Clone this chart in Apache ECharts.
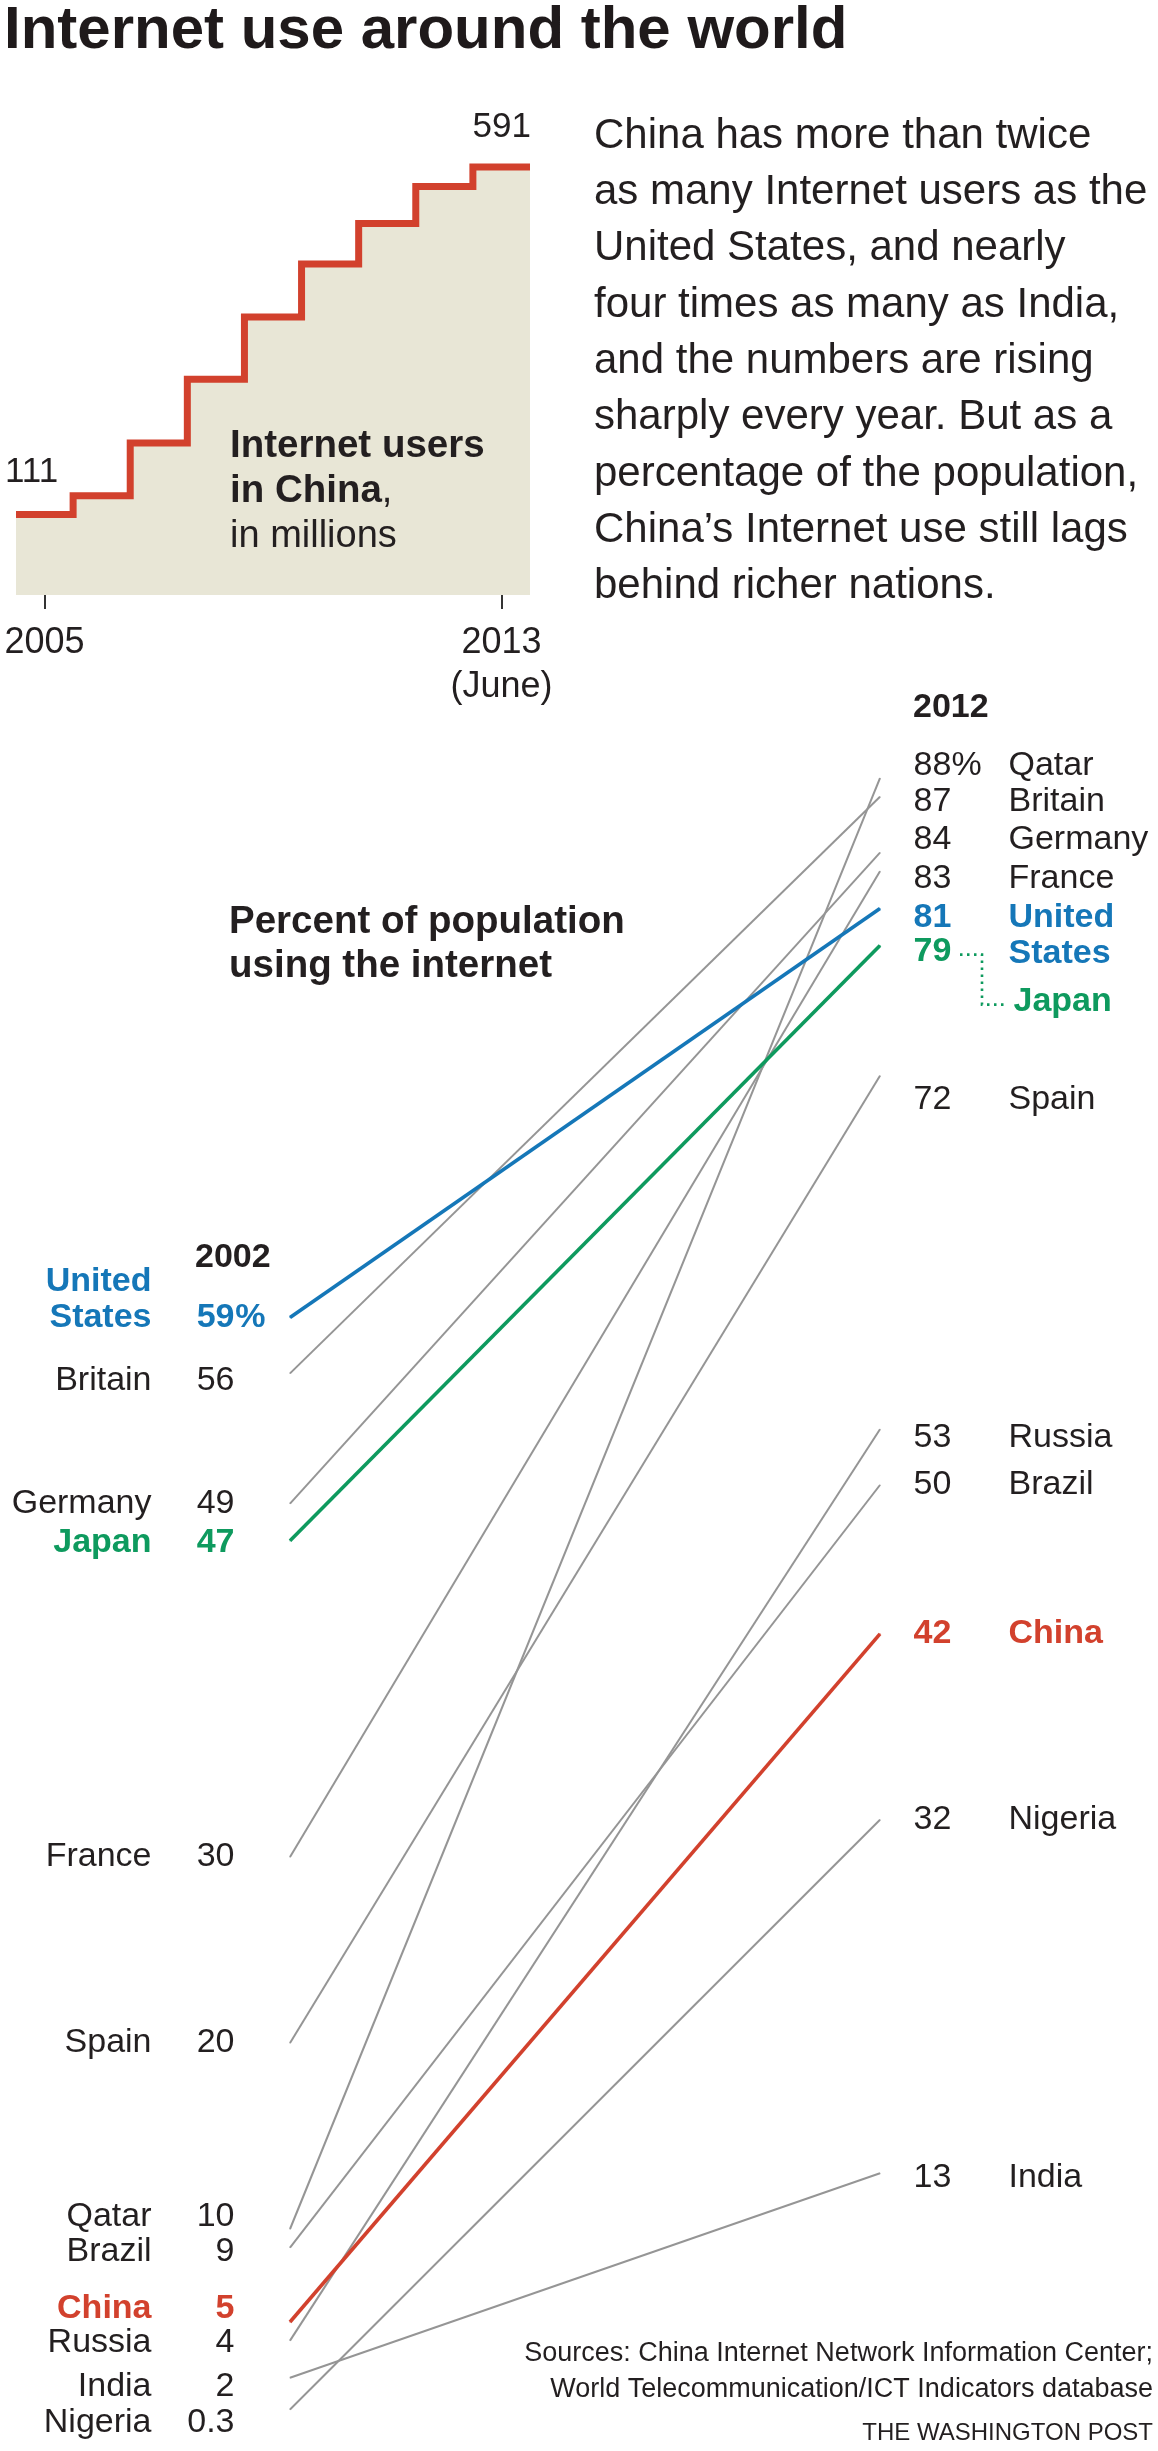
<!DOCTYPE html>
<html>
<head>
<meta charset="utf-8">
<title>Internet use around the world</title>
<script src="https://cdn.jsdelivr.net/npm/echarts@6/dist/echarts.min.js"></script>
<style>
  html, body { margin: 0; padding: 0; background: #fff; }
  #main { width: 1158px; height: 2451px; }
</style>
</head>
<body>
<div id="main"></div>
<script>
// internet users in China, millions (step chart)
var stepYears = ['2005', '2006', '2007', '2008', '2009', '2010', '2011', '2012', '2013\n(June)'];
var usersMillions = [111, 137, 210, 298, 384, 457, 513, 564, 591];

// percent of population using the internet (slope chart)
var slopeYears = ['2002', '2012'];
var countries = ['United States', 'Britain', 'Germany', 'Japan', 'France', 'Spain', 'Qatar', 'Brazil', 'China', 'Russia', 'India', 'Nigeria'];
var pct2002 = [59, 56, 49, 47, 30, 20, 10, 9, 5, 4, 2, 0.3];
var pct2012 = [81, 87, 84, 79, 83, 72, 88, 50, 42, 53, 13, 32];

// label nudges in px, so crowded labels stay apart
var nudgeLeft = [0, 7, 0, 2, 0, 0, -12, 4, -13, 2, 9, 13];
var nudgeRight = [9, 5, -13, 6, 7, 24, -13, 0, 0, 8, 4, 0];

var FONT = '"Liberation Sans", Arial, Helvetica, sans-serif';
var INK = '#231f20';
var GRAY = '#959595';
var highlight = { 'United States': '#1577b8', 'Japan': '#0e9a5e', 'China': '#d2412d' };

var chart = echarts.init(document.getElementById('main'));

/**
 * rich text styles for the slope labels
 * (left tokens all stick to the right edge, right tokens to the left edge)
 */
function richStyle(color, bold, lh) {
    function s(extra) {
        var base = { fontFamily: FONT, fontSize: 34, fontWeight: bold ? 'bold' : 'normal', color: color, lineHeight: lh };
        for (var k in extra) base[k] = extra[k];
        return base;
    }
    return {
        n: s({ width: 150, align: 'right' }),
        v: s({ width: 83, align: 'right' }),
        p: s({ width: 31, align: 'right' }),
        rv: s({ width: 38, align: 'left' }),
        rp: s({ width: 57, align: 'left' }),
        rn: s({ align: 'left' }),
        s: s({ width: 100, align: 'left' })
    };
}

function leftText(i) {
    var v = String(pct2002[i]);
    var pct = pct2002[i] === Math.max.apply(null, pct2002) ? '%' : ' ';
    var parts = countries[i].split(' ');
    if (parts.length > 1) {
        return '{n|' + parts[0] + '}{v| }{p| }\n{n|' + parts.slice(1).join(' ') + '}{v|' + v + '}{p|' + pct + '}';
    }
    return '{n|' + countries[i] + '}{v|' + v + '}{p|' + pct + '}';
}

function rightText(i) {
    var v = String(pct2012[i]);
    var pct = pct2012[i] === Math.max.apply(null, pct2012) ? '%' : ' ';
    var c = countries[i];
    if (c === 'Japan') {
        // name sits one line lower, joined by a dotted leader
        return '{rv|' + v + '}{rp| }\n{s| }{rn|' + c + '}';
    }
    var parts = c.split(' ');
    if (parts.length > 1) {
        return '{rv|' + v + '}{rp|' + pct + '}{rn|' + parts[0] + '}\n{rv| }{rp| }{rn|' + parts.slice(1).join(' ') + '}';
    }
    return '{rv|' + v + '}{rp|' + pct + '}{rn|' + c + '}';
}

// step chart data: each year is a band, closing point at the right edge
var stepData = usersMillions.map(function (v, i) { return { value: [i, v] }; });
var lastVal = usersMillions[usersMillions.length - 1];
stepData.push({ value: [usersMillions.length, lastVal] });
stepData[0].label = { show: true, position: 'top', align: 'left', distance: 25, offset: [-11, 0], formatter: String(usersMillions[0]) };
stepData[stepData.length - 1].label = { show: true, position: 'top', align: 'right', distance: 22, offset: [1, 0], formatter: String(lastVal) };

var series = [{
    type: 'line',
    xAxisIndex: 0,
    yAxisIndex: 0,
    step: 'end',
    data: stepData,
    symbol: 'circle',
    symbolSize: 0.1,
    showSymbol: true,
    clip: false,
    lineStyle: { color: '#d2412d', width: 7, cap: 'butt', join: 'miter' },
    itemStyle: { color: '#d2412d' },
    areaStyle: { color: '#e8e6d6', opacity: 1 },
    label: { show: false, fontFamily: FONT, fontSize: 35, color: INK },
    silent: true
}];

countries.forEach(function (c, i) {
    var col = highlight[c] || GRAY;
    var bold = !!highlight[c];
    var txt = highlight[c] || INK;
    var twoLine = c.split(' ').length > 1;
    var lh = c === 'Japan' ? 50 : 36;
    var offR = nudgeRight[i] + (twoLine ? lh / 2 : 0) + (c === 'Japan' ? lh / 2 : 0);
    var offL = nudgeLeft[i] - (twoLine ? lh / 2 : 0);
    series.push({
        type: 'line',
        name: c,
        xAxisIndex: 1,
        yAxisIndex: 1,
        symbol: 'circle',
        symbolSize: 1,
        showSymbol: true,
        z: bold ? 5 : 2,
        lineStyle: { color: col, width: bold ? 3.6 : 2 },
        itemStyle: { color: col },
        silent: true,
        label: { show: true, rich: richStyle(txt, bold, lh) },
        data: [
            { value: pct2002[i], label: { position: 'left', distance: 24, offset: [0, offL], formatter: leftText(i) } },
            { value: pct2012[i], label: { position: 'right', distance: 33, offset: [0, offR], formatter: rightText(i) } }
        ]
    });
});

var bodyLines = [
    'China has more than twice',
    'as many Internet users as the',
    'United States, and nearly',
    'four times as many as India,',
    'and the numbers are rising',
    'sharply every year. But as a',
    'percentage of the population,',
    'China\u2019s Internet use still lags',
    'behind richer nations.'
];

var graphics = [
    { type: 'text', x: 4, y: 31, style: { text: 'Internet use around the world', fontFamily: FONT, fontSize: 60, fontWeight: 'bold', fill: '#1f1a1b', textVerticalAlign: 'middle' } },
    { type: 'text', x: 594, y: 108, style: { text: bodyLines.join('\n'), fontFamily: FONT, fontSize: 42, lineHeight: 56.3, fill: INK, textVerticalAlign: 'top' } },
    { type: 'text', x: 230, y: 424, z: 10, style: {
        text: '{b|Internet users}\n{b|in China}{r|,}\n{r|in millions}',
        textVerticalAlign: 'top',
        rich: {
            b: { fontFamily: FONT, fontSize: 38.5, fontWeight: 'bold', lineHeight: 45, fill: INK },
            r: { fontFamily: FONT, fontSize: 38, lineHeight: 45, fill: INK }
        }
    } },
    { type: 'text', x: 229, y: 900, style: { text: 'Percent of population\nusing the internet', fontFamily: FONT, fontSize: 38.5, fontWeight: 'bold', lineHeight: 44, fill: INK, textVerticalAlign: 'top' } },
    { type: 'text', x: 195, y: 1258, style: { text: slopeYears[0], fontFamily: FONT, fontSize: 34, fontWeight: 'bold', fill: INK, textVerticalAlign: 'middle' } },
    { type: 'text', x: 913, y: 708, style: { text: slopeYears[1], fontFamily: FONT, fontSize: 34, fontWeight: 'bold', fill: INK, textVerticalAlign: 'middle' } },
    { type: 'text', x: 1153, y: 2336, style: { text: 'Sources: China Internet Network Information Center;\nWorld Telecommunication/ICT Indicators database', fontFamily: FONT, fontSize: 27, lineHeight: 36, fill: INK, textAlign: 'right', textVerticalAlign: 'top' } },
    { type: 'text', x: 1153, y: 2433, style: { text: 'THE WASHINGTON POST', fontFamily: FONT, fontSize: 24, fill: INK, textAlign: 'right', textVerticalAlign: 'middle' } }
];

var option = {
    animation: false,
    backgroundColor: '#fff',
    textStyle: { fontFamily: FONT },
    grid: [
        { left: 16, top: 167, width: 514, height: 428 },
        { left: 290, top: 555, width: 590, height: 1860 }
    ],
    xAxis: [{
        type: 'value',
        gridIndex: 0,
        min: 0,
        max: usersMillions.length,
        splitLine: { show: false },
        axisLine: { show: false },
        axisTick: {
            show: true,
            customValues: [0.5, stepYears.length - 0.5],
            length: 14,
            lineStyle: { color: '#333', width: 2 }
        },
        axisLabel: {
            show: true,
            customValues: [0.5, stepYears.length - 0.5],
            formatter: function (v) { return stepYears[Math.floor(v)]; },
            fontFamily: FONT,
            fontSize: 36,
            lineHeight: 44,
            color: INK,
            margin: 26
        }
    }, {
        type: 'category',
        gridIndex: 1,
        data: slopeYears,
        boundaryGap: false,
        show: false
    }],
    yAxis: [{
        type: 'value',
        gridIndex: 0,
        min: 0,
        max: lastVal,
        show: false
    }, {
        type: 'value',
        gridIndex: 1,
        min: 0,
        max: 100,
        show: false
    }],
    graphic: graphics,
    series: series
};

chart.setOption(option);

// dotted leader from Japan's 2012 value to its name
var jIdx = countries.indexOf('Japan');
var pj = chart.convertToPixel({ seriesIndex: jIdx + 1 }, [1, pct2012[jIdx]]);
var dy = nudgeRight[jIdx] + 3;
graphics.push({
    type: 'polyline',
    shape: { points: [[pj[0] + 80, pj[1] + dy], [pj[0] + 102, pj[1] + dy], [pj[0] + 102, pj[1] + dy + 50], [pj[0] + 124, pj[1] + dy + 50]] },
    style: { stroke: highlight['Japan'], lineWidth: 2.6, lineDash: [2.5, 4.5], fill: null }
});
chart.setOption({ graphic: graphics });
</script>
</body>
</html>
